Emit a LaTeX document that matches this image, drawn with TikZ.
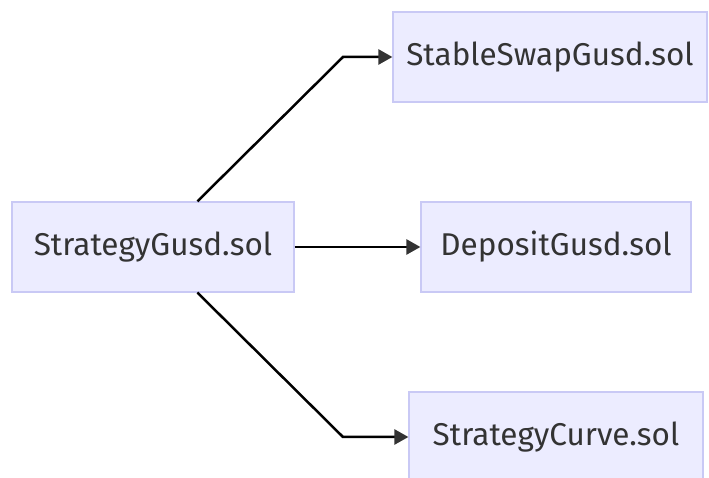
\documentclass[tikz,border=0pt]{standalone}
\usepackage{fontspec}
\setmainfont{Fira Sans}
\usetikzlibrary{arrows.meta}
\definecolor{boxfill}{HTML}{ECECFF}
\definecolor{boxline}{HTML}{C9C9F5}
\definecolor{txt}{HTML}{333333}
\begin{document}
\begin{tikzpicture}[x=1pt,y=1pt,
  box/.style={draw=boxline, fill=boxfill, line width=1.2pt, text=txt, font=\fontsize{31.5}{36}\selectfont, inner sep=0pt},
  link/.style={line width=2.5pt, black, -{Triangle[length=14pt,width=15pt,color=txt]}}]
\useasboundingbox (0,0) rectangle (709,478);
\node[box, minimum width=282pt, minimum height=90pt] (sg) at (153,231) {StrategyGusd.sol};
\node[box, minimum width=314pt, minimum height=90pt] (ss) at (550,421) {StableSwapGusd.sol};
\node[box, minimum width=270pt, minimum height=90pt] (dg) at (556,231) {DepositGusd.sol};
\node[box, minimum width=294pt, minimum height=90pt] (sc) at (556,41) {StrategyCurve.sol};
\coordinate (b1) at (343,421);
\coordinate (b2) at (343,41);
\draw[link] (sg.north west) ++(186,0) coordinate (s1) -- (b1) -- (ss.west);
\draw[link] (sg.south west) ++(186,0) coordinate (s2) -- (b2) -- (sc.west);
\draw[link] (sg.east) -- (dg.west);
\end{tikzpicture}
\end{document}
